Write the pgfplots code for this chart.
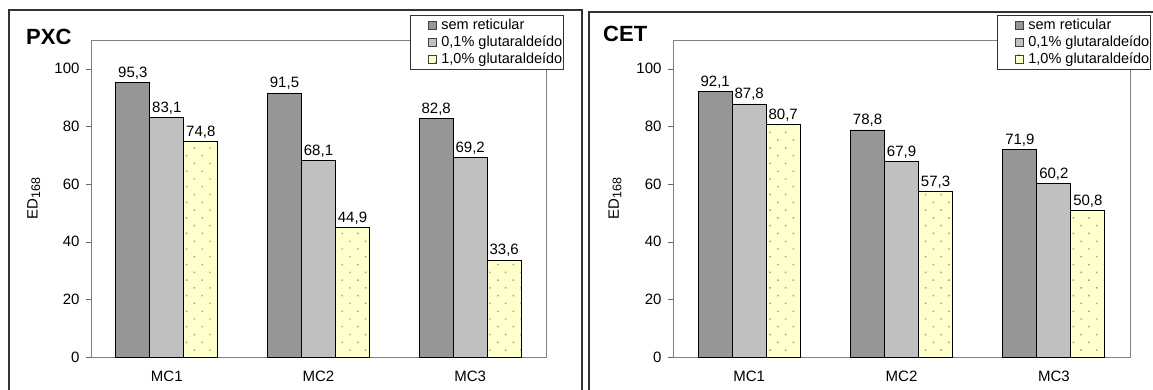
\documentclass[border=0pt]{standalone}
\usepackage{fontspec}
\setmainfont{Liberation Sans}
\usepackage{pgfplots}
\pgfplotsset{compat=1.18}
\usetikzlibrary{patterns.meta}
\definecolor{cdark}{HTML}{969696}
\definecolor{clight}{HTML}{C0C0C0}
\definecolor{cyel}{HTML}{FFFFCC}
\pgfplotsset{
  mybar/.style={
    ybar=0pt, bar width=34pt,
    scale only axis, height=317pt,
    ymin=0, ymax=110, xmin=-0.5, xmax=2.5,
    ytick={0,20,40,60,80,100}, yticklabels={0,20,40,60,80,100},
    xtick={0,1,2}, xticklabels={MC1,MC2,MC3},
    xtick pos=bottom, ytick pos=left,
    major x tick style={draw=none},
    extra x ticks={-0.5,0.5,1.5,2.5}, extra x tick labels={},
    extra x tick style={major tick length=5pt, tick style={draw=black!60}},
    tick align=outside, major tick length=5pt,
    ytick style={draw=black!60},
    axis line style={draw=black!50},
    tick label style={font=\fontsize{15}{17}\selectfont},
    yticklabel style={xshift=-3pt},
    xticklabel style={yshift=-5pt},
    nodes near coords={\pgfmathprintnumber[use comma,fixed,fixed zerofill,precision=1,assume math mode=true]{\pgfplotspointmeta}},
    every node near coord/.append style={font=\fontsize{15}{17}\selectfont, black, inner sep=3pt},
    legend style={font=\fontsize{14.5}{16}\selectfont, draw=black!80, inner xsep=0pt, inner ysep=2pt, row sep=0pt,
      nodes={inner xsep=0.5pt, inner ysep=2.3pt}, cells={anchor=west}, legend cell align=left},
    legend image code/.code={\path (0pt,0pt); \draw[#1,draw=black!75,line width=0.7pt] (18pt,-4pt) rectangle (26pt,4pt); \path (30pt,0pt);},
    ylabel={ED\raisebox{-2.5pt}{\fontsize{12.5}{14}\selectfont 168}},
    ylabel style={font=\fontsize{15}{17}\selectfont, anchor=center},
  },
  s1/.style={fill=cdark, draw=black, line width=0.8pt},
  s2/.style={fill=clight, draw=black, line width=0.8pt},
  s3/.style={fill=cyel, draw=black, line width=0.8pt, postaction={pattern={Dots[distance=11pt,angle=45,radius=1pt]}, pattern color=black!38}},
}
\begin{document}
\begin{tikzpicture}
\useasboundingbox (0,0) rectangle (1153pt,389pt);
\clip (0,0) rectangle (1153pt,389pt);
\fill[white] (0,0) rectangle (1153pt,389pt);
\draw[black!80, line width=1.5pt] (9pt,379pt) rectangle (582pt,-20pt);
\draw[black!80, line width=1.5pt] (589pt,377pt) rectangle (1175pt,-20pt);
\node[anchor=base west, font=\fontsize{22}{24}\selectfont\bfseries, inner sep=0pt] at (26pt,344pt) {PXC};
\node[anchor=base west, font=\fontsize{22}{24}\selectfont\bfseries, inner sep=0pt] at (603pt,347pt) {CET};
\begin{axis}[mybar, width=455pt, at={(91pt,32pt)}, anchor=south west,
  ylabel style={at={(axis description cs:-0.1256,0.5)}},
  legend style={at={(axis description cs:1.0374,1.0789)}, anchor=north east}]
\addplot[s1] coordinates {(0,95.3) (1,91.5) (2,82.8)};
\addplot[s2] coordinates {(0,83.1) (1,68.1) (2,69.2)};
\addplot[s3] coordinates {(0,74.8) (1,44.9) (2,33.6)};
\legend{sem reticular, {0,1\% glutaraldeído}, {1,0\% glutaraldeído}}
\end{axis}
\begin{axis}[mybar, width=457pt, at={(673pt,32pt)}, anchor=south west,
  ylabel style={at={(axis description cs:-0.127,0.5)}},
  legend style={at={(axis description cs:1.0438,1.0789)}, anchor=north east}]
\addplot[s1] coordinates {(0,92.1) (1,78.8) (2,71.9)};
\addplot[s2] coordinates {(0,87.8) (1,67.9) (2,60.2)};
\addplot[s3] coordinates {(0,80.7) (1,57.3) (2,50.8)};
\legend{sem reticular, {0,1\% glutaraldeído}, {1,0\% glutaraldeído}}
\end{axis}
\end{tikzpicture}
\end{document}
